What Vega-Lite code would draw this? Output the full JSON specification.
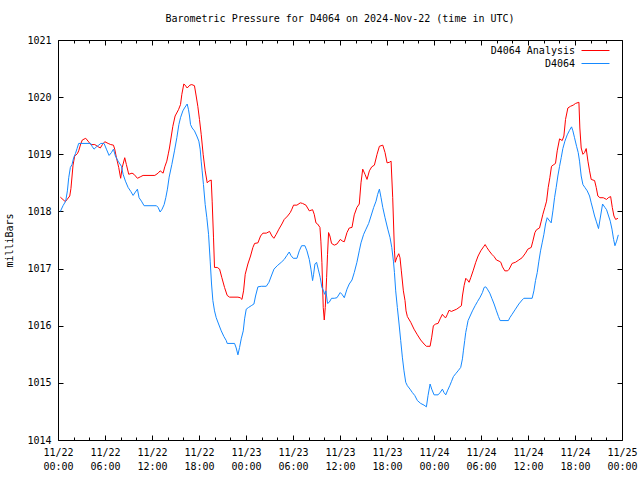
{
  "$schema": "https://vega.github.io/schema/vega-lite/v6.json",
  "autosize": {"type": "none"},
  "padding": {"left": 58, "top": 40, "right": 18, "bottom": 40},
  "width": 564,
  "height": 400,
  "background": "white",
  "title": {"text": "Barometric Pressure for D4064 on 2024-Nov-22 (time in UTC)", "font": "DejaVu Sans Mono", "fontSize": 10, "fontWeight": "normal", "color": "black", "anchor": "middle", "frame": "group", "offset": 11},
  "datasets": {
    "analysis": [
      {"hour":0.3,"mb":1018.25},{"hour":0.94,"mb":1018.17},{"hour":1.5,"mb":1018.27},{"hour":1.65,"mb":1018.4},{"hour":1.92,"mb":1018.81},{"hour":2.13,"mb":1018.97},{"hour":2.47,"mb":1019.01},{"hour":2.64,"mb":1019.06},{"hour":2.9,"mb":1019.18},{"hour":3.1,"mb":1019.25},{"hour":3.54,"mb":1019.28},{"hour":3.84,"mb":1019.23},{"hour":4.18,"mb":1019.17},{"hour":4.7,"mb":1019.17},{"hour":5.03,"mb":1019.14},{"hour":5.4,"mb":1019.11},{"hour":5.67,"mb":1019.17},{"hour":5.97,"mb":1019.22},{"hour":6.4,"mb":1019.19},{"hour":6.73,"mb":1019.17},{"hour":7.08,"mb":1019.16},{"hour":7.24,"mb":1019.09},{"hour":7.46,"mb":1018.94},{"hour":7.75,"mb":1018.77},{"hour":8.0,"mb":1018.58},{"hour":8.2,"mb":1018.77},{"hour":8.52,"mb":1018.94},{"hour":8.73,"mb":1018.82},{"hour":9.03,"mb":1018.65},{"hour":9.45,"mb":1018.67},{"hour":9.7,"mb":1018.65},{"hour":10.14,"mb":1018.58},{"hour":10.57,"mb":1018.61},{"hour":10.86,"mb":1018.63},{"hour":12.36,"mb":1018.63},{"hour":12.78,"mb":1018.67},{"hour":13.04,"mb":1018.71},{"hour":13.42,"mb":1018.67},{"hour":13.63,"mb":1018.78},{"hour":13.89,"mb":1018.88},{"hour":14.1,"mb":1019.02},{"hour":14.23,"mb":1019.11},{"hour":14.66,"mb":1019.49},{"hour":14.95,"mb":1019.67},{"hour":15.38,"mb":1019.78},{"hour":15.64,"mb":1019.87},{"hour":15.81,"mb":1020.05},{"hour":16.06,"mb":1020.23},{"hour":16.23,"mb":1020.21},{"hour":16.49,"mb":1020.16},{"hour":16.83,"mb":1020.21},{"hour":17.08,"mb":1020.22},{"hour":17.42,"mb":1020.2},{"hour":17.64,"mb":1020.02},{"hour":17.85,"mb":1019.84},{"hour":18.06,"mb":1019.61},{"hour":18.28,"mb":1019.35},{"hour":18.53,"mb":1019.0},{"hour":18.79,"mb":1018.71},{"hour":19.05,"mb":1018.5},{"hour":19.26,"mb":1018.53},{"hour":19.56,"mb":1018.55},{"hour":19.68,"mb":1018.18},{"hour":19.85,"mb":1017.55},{"hour":19.98,"mb":1017.02},{"hour":20.33,"mb":1017.02},{"hour":20.63,"mb":1016.99},{"hour":20.92,"mb":1016.84},{"hour":21.26,"mb":1016.67},{"hour":21.6,"mb":1016.53},{"hour":21.9,"mb":1016.5},{"hour":22.97,"mb":1016.5},{"hour":23.26,"mb":1016.49},{"hour":23.48,"mb":1016.46},{"hour":23.69,"mb":1016.61},{"hour":23.9,"mb":1016.9},{"hour":24.24,"mb":1017.08},{"hour":24.58,"mb":1017.22},{"hour":24.88,"mb":1017.37},{"hour":25.1,"mb":1017.44},{"hour":25.52,"mb":1017.45},{"hour":25.86,"mb":1017.57},{"hour":26.16,"mb":1017.62},{"hour":26.59,"mb":1017.62},{"hour":27.01,"mb":1017.65},{"hour":27.31,"mb":1017.57},{"hour":27.56,"mb":1017.53},{"hour":27.86,"mb":1017.6},{"hour":28.2,"mb":1017.69},{"hour":28.58,"mb":1017.78},{"hour":28.88,"mb":1017.86},{"hour":29.31,"mb":1017.92},{"hour":29.65,"mb":1017.98},{"hour":29.86,"mb":1018.04},{"hour":30.07,"mb":1018.11},{"hour":30.5,"mb":1018.11},{"hour":30.93,"mb":1018.15},{"hour":31.22,"mb":1018.14},{"hour":31.65,"mb":1018.11},{"hour":32.08,"mb":1018.01},{"hour":32.5,"mb":1018.03},{"hour":32.71,"mb":1017.95},{"hour":32.93,"mb":1017.8},{"hour":33.14,"mb":1017.78},{"hour":33.44,"mb":1017.72},{"hour":33.56,"mb":1017.48},{"hour":33.69,"mb":1017.11},{"hour":33.86,"mb":1016.32},{"hour":33.99,"mb":1016.1},{"hour":34.12,"mb":1016.32},{"hour":34.29,"mb":1016.84},{"hour":34.41,"mb":1017.25},{"hour":34.54,"mb":1017.63},{"hour":34.71,"mb":1017.57},{"hour":34.92,"mb":1017.44},{"hour":35.27,"mb":1017.41},{"hour":35.61,"mb":1017.43},{"hour":36.03,"mb":1017.51},{"hour":36.33,"mb":1017.48},{"hour":36.55,"mb":1017.47},{"hour":36.89,"mb":1017.63},{"hour":37.18,"mb":1017.71},{"hour":37.53,"mb":1017.72},{"hour":37.82,"mb":1017.94},{"hour":38.16,"mb":1018.07},{"hour":38.46,"mb":1018.13},{"hour":38.68,"mb":1018.5},{"hour":38.9,"mb":1018.74},{"hour":39.19,"mb":1018.65},{"hour":39.45,"mb":1018.56},{"hour":39.75,"mb":1018.71},{"hour":40.05,"mb":1018.78},{"hour":40.39,"mb":1018.81},{"hour":40.73,"mb":1019.0},{"hour":41.03,"mb":1019.14},{"hour":41.46,"mb":1019.16},{"hour":41.75,"mb":1019.03},{"hour":42.01,"mb":1018.85},{"hour":42.31,"mb":1018.86},{"hour":42.52,"mb":1018.88},{"hour":42.73,"mb":1018.24},{"hour":42.95,"mb":1017.31},{"hour":43.05,"mb":1017.11},{"hour":43.24,"mb":1017.19},{"hour":43.5,"mb":1017.26},{"hour":43.66,"mb":1017.19},{"hour":43.83,"mb":1016.96},{"hour":44.09,"mb":1016.61},{"hour":44.3,"mb":1016.44},{"hour":44.43,"mb":1016.26},{"hour":44.6,"mb":1016.16},{"hour":45.03,"mb":1016.06},{"hour":45.45,"mb":1015.94},{"hour":45.88,"mb":1015.84},{"hour":46.3,"mb":1015.75},{"hour":46.73,"mb":1015.68},{"hour":47.03,"mb":1015.64},{"hour":47.5,"mb":1015.64},{"hour":47.71,"mb":1015.8},{"hour":47.92,"mb":1016.0},{"hour":48.22,"mb":1016.03},{"hour":48.52,"mb":1016.04},{"hour":48.78,"mb":1016.12},{"hour":49.07,"mb":1016.2},{"hour":49.28,"mb":1016.16},{"hour":49.5,"mb":1016.14},{"hour":49.71,"mb":1016.2},{"hour":49.92,"mb":1016.27},{"hour":50.22,"mb":1016.25},{"hour":50.56,"mb":1016.27},{"hour":50.9,"mb":1016.29},{"hour":51.2,"mb":1016.32},{"hour":51.5,"mb":1016.35},{"hour":51.63,"mb":1016.52},{"hour":51.84,"mb":1016.7},{"hour":52.06,"mb":1016.83},{"hour":52.27,"mb":1016.8},{"hour":52.48,"mb":1016.76},{"hour":52.69,"mb":1016.84},{"hour":52.99,"mb":1016.96},{"hour":53.33,"mb":1017.11},{"hour":53.63,"mb":1017.22},{"hour":53.97,"mb":1017.31},{"hour":54.32,"mb":1017.38},{"hour":54.53,"mb":1017.42},{"hour":54.74,"mb":1017.37},{"hour":55.04,"mb":1017.31},{"hour":55.38,"mb":1017.25},{"hour":55.67,"mb":1017.21},{"hour":55.97,"mb":1017.15},{"hour":56.31,"mb":1017.13},{"hour":56.53,"mb":1017.11},{"hour":56.74,"mb":1017.03},{"hour":57.04,"mb":1016.96},{"hour":57.4,"mb":1016.96},{"hour":57.6,"mb":1016.99},{"hour":57.97,"mb":1017.09},{"hour":58.4,"mb":1017.11},{"hour":58.83,"mb":1017.15},{"hour":59.25,"mb":1017.19},{"hour":59.68,"mb":1017.27},{"hour":59.98,"mb":1017.34},{"hour":60.41,"mb":1017.37},{"hour":60.62,"mb":1017.48},{"hour":60.88,"mb":1017.63},{"hour":61.09,"mb":1017.68},{"hour":61.47,"mb":1017.71},{"hour":61.69,"mb":1017.83},{"hour":61.9,"mb":1017.95},{"hour":62.15,"mb":1018.07},{"hour":62.37,"mb":1018.18},{"hour":62.58,"mb":1018.42},{"hour":62.79,"mb":1018.59},{"hour":63.0,"mb":1018.79},{"hour":63.3,"mb":1018.82},{"hour":63.51,"mb":1018.84},{"hour":63.73,"mb":1019.06},{"hour":64.03,"mb":1019.27},{"hour":64.37,"mb":1019.24},{"hour":64.58,"mb":1019.32},{"hour":64.79,"mb":1019.61},{"hour":65.09,"mb":1019.81},{"hour":65.43,"mb":1019.84},{"hour":65.77,"mb":1019.86},{"hour":66.07,"mb":1019.89},{"hour":66.5,"mb":1019.91},{"hour":66.62,"mb":1019.46},{"hour":66.79,"mb":1019.11},{"hour":67.01,"mb":1019.0},{"hour":67.22,"mb":1019.03},{"hour":67.43,"mb":1019.1},{"hour":67.65,"mb":1018.88},{"hour":67.86,"mb":1018.71},{"hour":68.07,"mb":1018.56},{"hour":68.5,"mb":1018.54},{"hour":68.71,"mb":1018.42},{"hour":68.92,"mb":1018.27},{"hour":69.18,"mb":1018.24},{"hour":69.61,"mb":1018.24},{"hour":70.03,"mb":1018.21},{"hour":70.25,"mb":1018.24},{"hour":70.55,"mb":1018.26},{"hour":70.76,"mb":1018.07},{"hour":70.97,"mb":1017.92},{"hour":71.19,"mb":1017.86},{"hour":71.48,"mb":1017.88}
    ],
    "obs": [
      {"hour":0.3,"mb":1018.0},{"hour":0.64,"mb":1018.1},{"hour":0.98,"mb":1018.18},{"hour":1.2,"mb":1018.36},{"hour":1.37,"mb":1018.59},{"hour":1.58,"mb":1018.77},{"hour":1.79,"mb":1018.82},{"hour":2.0,"mb":1018.94},{"hour":2.22,"mb":1019.01},{"hour":2.43,"mb":1019.1},{"hour":2.64,"mb":1019.19},{"hour":4.18,"mb":1019.19},{"hour":4.35,"mb":1019.14},{"hour":4.6,"mb":1019.09},{"hour":4.9,"mb":1019.13},{"hour":5.2,"mb":1019.16},{"hour":5.46,"mb":1019.19},{"hour":5.88,"mb":1019.19},{"hour":6.18,"mb":1019.09},{"hour":6.52,"mb":1018.98},{"hour":6.82,"mb":1019.03},{"hour":7.08,"mb":1019.09},{"hour":7.33,"mb":1018.97},{"hour":7.67,"mb":1018.88},{"hour":8.1,"mb":1018.79},{"hour":8.31,"mb":1018.65},{"hour":8.61,"mb":1018.53},{"hour":8.95,"mb":1018.42},{"hour":9.29,"mb":1018.35},{"hour":9.59,"mb":1018.28},{"hour":9.88,"mb":1018.34},{"hour":10.14,"mb":1018.39},{"hour":10.35,"mb":1018.24},{"hour":10.65,"mb":1018.18},{"hour":10.99,"mb":1018.1},{"hour":12.57,"mb":1018.1},{"hour":12.78,"mb":1018.07},{"hour":13.04,"mb":1017.99},{"hour":13.29,"mb":1018.04},{"hour":13.55,"mb":1018.12},{"hour":13.76,"mb":1018.24},{"hour":13.97,"mb":1018.39},{"hour":14.19,"mb":1018.6},{"hour":14.53,"mb":1018.82},{"hour":14.87,"mb":1019.06},{"hour":15.17,"mb":1019.29},{"hour":15.43,"mb":1019.52},{"hour":15.64,"mb":1019.64},{"hour":15.94,"mb":1019.76},{"hour":16.15,"mb":1019.81},{"hour":16.49,"mb":1019.88},{"hour":16.66,"mb":1019.78},{"hour":16.79,"mb":1019.67},{"hour":16.92,"mb":1019.52},{"hour":17.13,"mb":1019.46},{"hour":17.42,"mb":1019.41},{"hour":17.72,"mb":1019.32},{"hour":17.98,"mb":1019.23},{"hour":18.15,"mb":1019.09},{"hour":18.28,"mb":1018.88},{"hour":18.4,"mb":1018.71},{"hour":18.57,"mb":1018.47},{"hour":18.79,"mb":1018.12},{"hour":19.0,"mb":1017.89},{"hour":19.22,"mb":1017.6},{"hour":19.43,"mb":1017.13},{"hour":19.6,"mb":1016.73},{"hour":19.77,"mb":1016.44},{"hour":19.98,"mb":1016.26},{"hour":20.2,"mb":1016.14},{"hour":20.5,"mb":1016.03},{"hour":20.84,"mb":1015.91},{"hour":21.18,"mb":1015.81},{"hour":21.48,"mb":1015.74},{"hour":21.6,"mb":1015.69},{"hour":22.54,"mb":1015.69},{"hour":22.75,"mb":1015.61},{"hour":22.97,"mb":1015.49},{"hour":23.18,"mb":1015.62},{"hour":23.39,"mb":1015.77},{"hour":23.65,"mb":1015.91},{"hour":23.82,"mb":1016.12},{"hour":24.03,"mb":1016.29},{"hour":24.33,"mb":1016.32},{"hour":24.67,"mb":1016.35},{"hour":25.01,"mb":1016.38},{"hour":25.22,"mb":1016.52},{"hour":25.52,"mb":1016.68},{"hour":25.95,"mb":1016.69},{"hour":26.59,"mb":1016.69},{"hour":26.93,"mb":1016.76},{"hour":27.23,"mb":1016.87},{"hour":27.57,"mb":1016.99},{"hour":27.99,"mb":1017.05},{"hour":28.5,"mb":1017.11},{"hour":28.88,"mb":1017.16},{"hour":29.22,"mb":1017.23},{"hour":29.52,"mb":1017.29},{"hour":29.73,"mb":1017.23},{"hour":30.03,"mb":1017.18},{"hour":30.5,"mb":1017.18},{"hour":30.8,"mb":1017.31},{"hour":31.1,"mb":1017.4},{"hour":31.52,"mb":1017.4},{"hour":31.78,"mb":1017.31},{"hour":32.08,"mb":1017.16},{"hour":32.29,"mb":1016.99},{"hour":32.5,"mb":1016.79},{"hour":32.63,"mb":1016.9},{"hour":32.8,"mb":1017.08},{"hour":33.01,"mb":1017.11},{"hour":33.22,"mb":1016.99},{"hour":33.48,"mb":1016.84},{"hour":33.69,"mb":1016.67},{"hour":33.9,"mb":1016.61},{"hour":34.03,"mb":1016.55},{"hour":34.2,"mb":1016.61},{"hour":34.41,"mb":1016.39},{"hour":34.62,"mb":1016.41},{"hour":34.92,"mb":1016.48},{"hour":35.27,"mb":1016.48},{"hour":35.61,"mb":1016.49},{"hour":36.03,"mb":1016.58},{"hour":36.25,"mb":1016.55},{"hour":36.55,"mb":1016.49},{"hour":36.89,"mb":1016.64},{"hour":37.18,"mb":1016.73},{"hour":37.53,"mb":1016.8},{"hour":37.82,"mb":1016.93},{"hour":38.16,"mb":1017.11},{"hour":38.46,"mb":1017.31},{"hour":38.68,"mb":1017.45},{"hour":39.02,"mb":1017.6},{"hour":39.32,"mb":1017.69},{"hour":39.66,"mb":1017.79},{"hour":39.96,"mb":1017.92},{"hour":40.3,"mb":1018.07},{"hour":40.6,"mb":1018.18},{"hour":40.81,"mb":1018.3},{"hour":41.03,"mb":1018.39},{"hour":41.24,"mb":1018.24},{"hour":41.46,"mb":1018.07},{"hour":41.75,"mb":1017.89},{"hour":42.1,"mb":1017.69},{"hour":42.39,"mb":1017.54},{"hour":42.61,"mb":1017.37},{"hour":42.82,"mb":1017.13},{"hour":42.95,"mb":1016.93},{"hour":43.11,"mb":1016.61},{"hour":43.32,"mb":1016.32},{"hour":43.54,"mb":1016.03},{"hour":43.75,"mb":1015.74},{"hour":43.96,"mb":1015.45},{"hour":44.17,"mb":1015.21},{"hour":44.39,"mb":1015.01},{"hour":44.6,"mb":1014.95},{"hour":44.94,"mb":1014.89},{"hour":45.24,"mb":1014.83},{"hour":45.54,"mb":1014.78},{"hour":45.88,"mb":1014.69},{"hour":46.3,"mb":1014.64},{"hour":46.73,"mb":1014.61},{"hour":47.03,"mb":1014.58},{"hour":47.24,"mb":1014.78},{"hour":47.5,"mb":1014.98},{"hour":47.71,"mb":1014.89},{"hour":48.01,"mb":1014.79},{"hour":48.52,"mb":1014.79},{"hour":48.78,"mb":1014.83},{"hour":49.07,"mb":1014.89},{"hour":49.28,"mb":1014.83},{"hour":49.5,"mb":1014.79},{"hour":49.71,"mb":1014.86},{"hour":50.01,"mb":1014.95},{"hour":50.22,"mb":1015.02},{"hour":50.48,"mb":1015.11},{"hour":50.77,"mb":1015.16},{"hour":51.07,"mb":1015.21},{"hour":51.41,"mb":1015.27},{"hour":51.63,"mb":1015.42},{"hour":51.75,"mb":1015.56},{"hour":51.92,"mb":1015.74},{"hour":52.05,"mb":1015.88},{"hour":52.18,"mb":1015.97},{"hour":52.35,"mb":1016.09},{"hour":52.61,"mb":1016.17},{"hour":52.91,"mb":1016.26},{"hour":53.25,"mb":1016.35},{"hour":53.54,"mb":1016.42},{"hour":53.89,"mb":1016.5},{"hour":54.18,"mb":1016.58},{"hour":54.4,"mb":1016.67},{"hour":54.61,"mb":1016.68},{"hour":54.82,"mb":1016.64},{"hour":55.12,"mb":1016.57},{"hour":55.38,"mb":1016.48},{"hour":55.67,"mb":1016.38},{"hour":55.97,"mb":1016.26},{"hour":56.23,"mb":1016.16},{"hour":56.44,"mb":1016.09},{"hour":57.5,"mb":1016.09},{"hour":57.68,"mb":1016.14},{"hour":57.97,"mb":1016.2},{"hour":58.4,"mb":1016.29},{"hour":58.83,"mb":1016.38},{"hour":59.25,"mb":1016.45},{"hour":59.47,"mb":1016.48},{"hour":60.53,"mb":1016.48},{"hour":60.75,"mb":1016.61},{"hour":60.96,"mb":1016.79},{"hour":61.18,"mb":1016.93},{"hour":61.39,"mb":1017.13},{"hour":61.6,"mb":1017.31},{"hour":61.81,"mb":1017.45},{"hour":62.03,"mb":1017.6},{"hour":62.24,"mb":1017.78},{"hour":62.45,"mb":1017.89},{"hour":62.67,"mb":1017.85},{"hour":62.96,"mb":1017.8},{"hour":63.18,"mb":1018.01},{"hour":63.39,"mb":1018.24},{"hour":63.6,"mb":1018.42},{"hour":63.81,"mb":1018.62},{"hour":64.03,"mb":1018.79},{"hour":64.24,"mb":1018.94},{"hour":64.45,"mb":1019.1},{"hour":64.71,"mb":1019.23},{"hour":65.01,"mb":1019.34},{"hour":65.3,"mb":1019.42},{"hour":65.56,"mb":1019.48},{"hour":65.73,"mb":1019.41},{"hour":65.94,"mb":1019.29},{"hour":66.2,"mb":1019.14},{"hour":66.41,"mb":1019.03},{"hour":66.58,"mb":1018.88},{"hour":66.79,"mb":1018.62},{"hour":67.01,"mb":1018.47},{"hour":67.26,"mb":1018.42},{"hour":67.56,"mb":1018.36},{"hour":67.86,"mb":1018.27},{"hour":68.07,"mb":1018.15},{"hour":68.28,"mb":1018.04},{"hour":68.5,"mb":1017.92},{"hour":68.71,"mb":1017.83},{"hour":69.0,"mb":1017.7},{"hour":69.52,"mb":1018.13},{"hour":69.82,"mb":1018.07},{"hour":70.03,"mb":1018.03},{"hour":70.29,"mb":1017.92},{"hour":70.5,"mb":1017.83},{"hour":70.72,"mb":1017.69},{"hour":70.93,"mb":1017.51},{"hour":71.1,"mb":1017.4},{"hour":71.31,"mb":1017.48},{"hour":71.53,"mb":1017.59}
    ]
  },
  "layer": [
    {
      "data": {"name": "analysis"},
      "mark": {"type": "line", "strokeWidth": 1, "clip": true},
      "encoding": {
        "x": {"field": "hour", "type": "quantitative", "scale": {"domain": [0, 72], "nice": false, "zero": false},
              "axis": {"orient": "bottom", "values": [0,6,12,18,24,30,36,42,48,54,60,66,72], "ticks": false, "domain": false, "grid": false, "title": null, "labelFlush": false, "labelOverlap": false, "labelPadding": 7, "labelLineHeight": 14,
                       "labelExpr": "['11/' + (22 + floor(datum.value / 24)), (datum.value % 24 < 10 ? '0' : '') + (datum.value % 24) + ':00']"}},
        "y": {"field": "mb", "type": "quantitative", "scale": {"domain": [1014, 1021], "nice": false, "zero": false},
              "axis": {"orient": "left", "values": [1014,1015,1016,1017,1018,1019,1020,1021], "ticks": false, "domain": false, "grid": false, "labelFlush": false, "labelOverlap": false, "labelPadding": 7, "format": "d", "title": "milliBars", "titleX": -44, "titleY": 200}},
        "color": {"datum": "D4064 Analysis", "type": "nominal", "scale": {"domain": ["D4064 Analysis", "D4064"], "range": ["#ff0000", "#1589ff"]},
                  "legend": {"orient": "none", "legendX": 531, "legendY": 4, "title": null, "symbolType": "M-2.33,0H2.33", "symbolSize": 144, "symbolStrokeWidth": 1, "labelAlign": "right", "labelOffset": -27, "padding": 0, "rowPadding": 1, "labelLimit": 300}}
      }
    },
    {
      "data": {"name": "obs"},
      "mark": {"type": "line", "strokeWidth": 1, "clip": true},
      "encoding": {
        "x": {"field": "hour", "type": "quantitative", "axis": {"orient": "bottom", "values": [0,6,12,18,24,30,36,42,48,54,60,66,72], "labels": false, "tickSize": -5, "domain": false, "grid": false, "title": null}},
        "y": {"field": "mb", "type": "quantitative", "axis": {"orient": "left", "values": [1014,1015,1016,1017,1018,1019,1020,1021], "labels": false, "tickSize": -5, "domain": false, "grid": false, "title": null}},
        "color": {"datum": "D4064", "type": "nominal"}
      }
    },
    {
      "data": {"name": "obs"},
      "mark": {"type": "point", "opacity": 0},
      "encoding": {
        "x": {"field": "hour", "type": "quantitative", "axis": {"orient": "top", "values": [0,6,12,18,24,30,36,42,48,54,60,66,72], "labels": false, "tickSize": -5, "domain": false, "grid": false, "title": null}},
        "y": {"field": "mb", "type": "quantitative", "axis": {"orient": "right", "values": [1014,1015,1016,1017,1018,1019,1020,1021], "labels": false, "tickSize": -5, "domain": false, "grid": false, "title": null}}
      }
    },
    {
      "data": {"name": "obs"},
      "mark": {"type": "point", "opacity": 0},
      "encoding": {
        "x": {"field": "hour", "type": "quantitative", "axis": {"orient": "bottom", "values": [2,4,8,10,14,16,20,22,26,28,32,34,38,40,44,46,50,52,56,58,62,64,68,70], "labels": false, "tickSize": -3, "domain": false, "grid": false, "title": null}},
        "y": {"field": "mb", "type": "quantitative", "axis": null}
      }
    },
    {
      "data": {"name": "obs"},
      "mark": {"type": "point", "opacity": 0},
      "encoding": {
        "x": {"field": "hour", "type": "quantitative", "axis": {"orient": "top", "values": [2,4,8,10,14,16,20,22,26,28,32,34,38,40,44,46,50,52,56,58,62,64,68,70], "labels": false, "tickSize": -3, "domain": false, "grid": false, "title": null}},
        "y": {"field": "mb", "type": "quantitative", "axis": null}
      }
    }
  ],
  "resolve": {"axis": {"x": "independent", "y": "independent"}},
  "config": {
    "view": {"stroke": "black", "strokeWidth": 1},
    "font": "DejaVu Sans Mono",
    "axis": {"labelFont": "DejaVu Sans Mono", "labelFontSize": 10, "labelColor": "black", "titleFont": "DejaVu Sans Mono", "titleFontSize": 10, "titleFontWeight": "normal", "titleColor": "black", "tickColor": "black", "tickWidth": 1},
    "legend": {"labelFont": "DejaVu Sans Mono", "labelFontSize": 10, "labelColor": "black"}
  }
}
